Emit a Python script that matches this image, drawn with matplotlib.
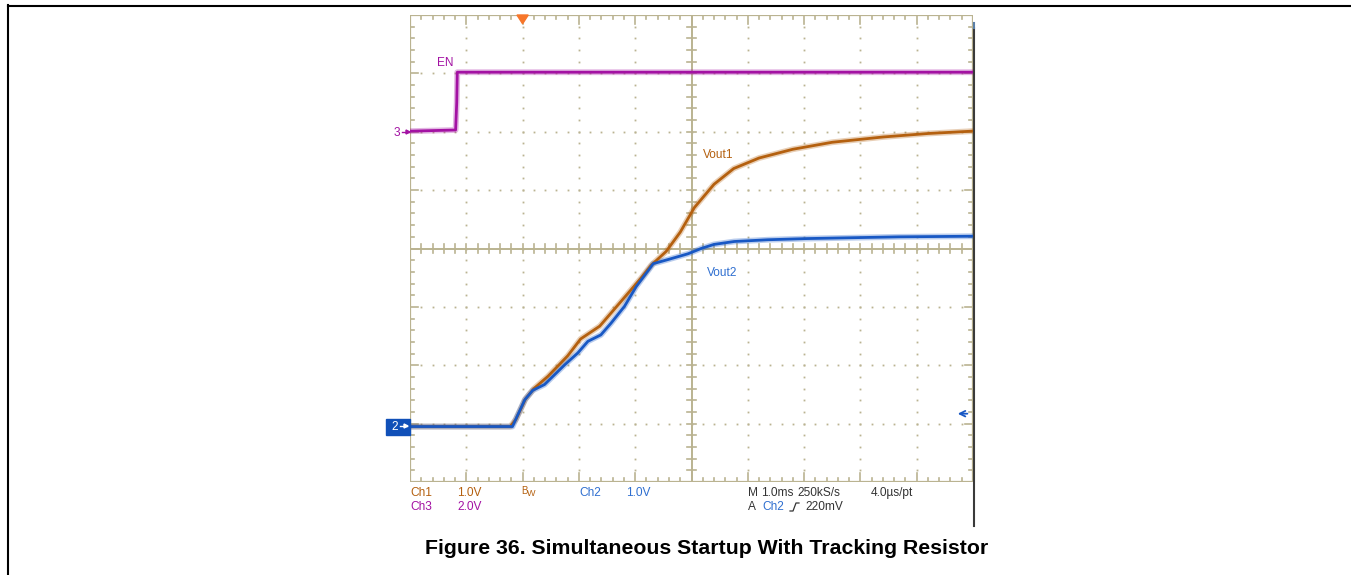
import matplotlib
matplotlib.use("Agg")
import matplotlib.pyplot as plt
from matplotlib.patches import Rectangle, Polygon
from matplotlib.lines import Line2D

plt.rcParams['font.family'] = ['Liberation Sans', 'DejaVu Sans']

# ---- waveform data (time in ms, trigger at t = 0) ----
en_t = [-2.0, -1.19, -1.17, -1.16, 8.0]
en_v = [0.02, 0.06, 1.0, 2.04, 2.04]

vout1_t = [-2.0, -0.22, -0.12, 0.05, 0.20, 0.45, 0.80, 1.03, 1.37, 1.79, 2.11, 2.28,
           2.55, 2.80, 3.05, 3.40, 3.75, 4.20, 4.80, 5.50, 6.40, 7.20, 7.98]
vout1_v = [0.0, 0.0, 0.12, 0.47, 0.65, 0.86, 1.21, 1.50, 1.72, 2.19, 2.55, 2.76,
           3.00, 3.33, 3.75, 4.15, 4.42, 4.60, 4.75, 4.87, 4.96, 5.02, 5.06]

vout2_t = [-2.0, -0.18, -0.09, 0.04, 0.18, 0.39, 0.57, 0.75, 0.98, 1.16, 1.39,
           1.57, 1.81, 2.02, 2.26, 2.32, 2.58, 2.94, 3.17, 3.40, 3.76, 4.36,
           5.05, 6.70, 7.98]
vout2_v = [0.0, 0.0, 0.19, 0.46, 0.62, 0.72, 0.89, 1.06, 1.26, 1.46, 1.57,
           1.77, 2.06, 2.40, 2.71, 2.79, 2.86, 2.96, 3.05, 3.12, 3.17, 3.20,
           3.22, 3.25, 3.26]

# channel settings: volts per division and ground level (divisions from bottom)
ch1_scale, ch1_ground = 1.0, 0.95
ch2_scale, ch2_ground = 1.0, 0.95
ch3_scale, ch3_ground = 2.0, 6.0
trigger_level = 0.22   # V on Ch2

# ---- figure geometry ----
W, H = 1351, 575
fig = plt.figure(figsize=(W / 100, H / 100), dpi=100)
fig.patch.set_facecolor('white')

def fx(x):
    return x / W

def fy(y):
    return 1 - y / H

gl, gr, gt, gb = 410, 973, 15, 482
ax = fig.add_axes([fx(gl), fy(gb), (gr - gl) / W, (gb - gt) / H])
ax.set_xlim(-2, 8)
ax.set_ylim(0, 8)
ax.set_axis_off()

grid_c = '#bab391'
purple = '#a312a3'
brown = '#b4600f'
blue = '#1858c4'
label_blue = '#2f6fd0'
dark = '#333333'

# graticule: dotted division lines
for xd in range(-1, 8):
    if xd == 3:
        continue
    ys = [i * 0.2 for i in range(1, 40)]
    ax.plot([xd] * len(ys), ys, ls='none', marker='s', ms=1.3, color=grid_c, mew=0)
for yd in range(1, 8):
    if yd == 4:
        continue
    xs = [-2 + i * 0.2 for i in range(1, 50)]
    ax.plot(xs, [yd] * len(xs), ls='none', marker='s', ms=1.3, color=grid_c, mew=0)

# center cross and border
ax.plot([3, 3], [0, 8], color=grid_c, lw=1.4)
ax.plot([-2, 8], [4, 4], color=grid_c, lw=1.4)
ax.add_patch(Rectangle((-2, 0), 10, 8, fill=False, ec=grid_c, lw=1.6))

tx = 0.075   # minor tick half-length (x units)
ty = 0.075   # minor tick half-length (y units)
for i in range(1, 50):
    x = -2 + i * 0.2
    major = (i % 5 == 0)
    L = ty * (2.0 if major else 1.0)
    ax.plot([x, x], [8, 8 - L], color=grid_c, lw=1.2)
    ax.plot([x, x], [0, L], color=grid_c, lw=1.2)
    ax.plot([x, x], [4 - ty, 4 + ty], color=grid_c, lw=1.2)
for i in range(1, 40):
    y = i * 0.2
    major = (i % 5 == 0)
    L = tx * (2.0 if major else 1.0)
    ax.plot([-2, -2 + L], [y, y], color=grid_c, lw=1.2)
    ax.plot([8, 8 - L], [y, y], color=grid_c, lw=1.2)
    ax.plot([3 - tx, 3 + tx], [y, y], color=grid_c, lw=1.2)

# ---- traces ----
def to_div(vals, scale, ground):
    return [v / scale + ground for v in vals]

traces = [
    (en_t, to_div(en_v, ch3_scale, ch3_ground), purple),
    (vout1_t, to_div(vout1_v, ch1_scale, ch1_ground), brown),
    (vout2_t, to_div(vout2_v, ch2_scale, ch2_ground), blue),
]
for t, d, c in traces:
    ax.plot(t, d, color=c, lw=4.2, alpha=0.3, solid_joinstyle='round', zorder=3)
    ax.plot(t, d, color=c, lw=2.0, solid_joinstyle='round', zorder=4)

# trace labels
fs = 8.6
ax.text(-1.52, 7.17, 'EN', color=purple, fontsize=fs, ha='left', va='center')
ax.text(3.2, 5.6, 'Vout1', color=brown, fontsize=fs, ha='left', va='center')
ax.text(3.27, 3.58, 'Vout2', color=label_blue, fontsize=fs, ha='left', va='center')

# trigger position marker (top) and trigger level marker (right)
ax.add_patch(Polygon([[-0.1, 8.0], [0.1, 8.0], [0.0, 7.85]], closed=True,
                     color='#f7762a', clip_on=False, zorder=6))
lvl = ch2_ground + trigger_level / ch2_scale
ax.annotate('', xy=(7.68, lvl), xytext=(7.95, lvl),
            arrowprops=dict(arrowstyle='->', color=blue, lw=1.3), zorder=6)

# channel ground markers on the left
fig.text(fx(397), fy(133), '3', color=purple, fontsize=fs, ha='center', va='center')
fig.add_artist(Line2D([fx(402), fx(409)], [fy(132), fy(132)], color=purple, lw=1.0))
fig.add_artist(Polygon([[fx(410), fy(132)], [fx(406), fy(130)], [fx(406), fy(134)]],
                       closed=True, color=purple))
fig.add_artist(Rectangle((fx(386), fy(435)), 24 / W, 16 / H, color='#1050b8'))
fig.text(fx(395), fy(427), '2', color='white', fontsize=fs, ha='center', va='center')
fig.add_artist(Line2D([fx(400), fx(407)], [fy(426), fy(426)], color='white', lw=1.0))
fig.add_artist(Polygon([[fx(408), fy(426)], [fx(404), fy(424)], [fx(404), fy(428)]],
                       closed=True, color='white'))

# scope readout lines
row1, row2 = 493, 507
ro = dict(fontsize=fs, ha='left', va='center')
fig.text(fx(410), fy(row1), 'Ch1', color=brown, **ro)
fig.text(fx(457), fy(row1), '1.0V', color=brown, **ro)
fig.text(fx(410), fy(row2), 'Ch3', color=purple, **ro)
fig.text(fx(457), fy(row2), '2.0V', color=purple, **ro)
fig.text(fx(521), fy(row1 - 2), 'B', color=brown, fontsize=7, ha='left', va='center')
fig.text(fx(527), fy(row1 + 1), 'W', color=brown, fontsize=6.5, ha='left', va='center')
fig.text(fx(579), fy(row1), 'Ch2', color=label_blue, **ro)
fig.text(fx(626), fy(row1), '1.0V', color=label_blue, **ro)
fig.text(fx(748), fy(row1), 'M', color=dark, **ro)
fig.text(fx(761), fy(row1), '1.0ms', color=dark, **ro)
fig.text(fx(797), fy(row1), '250kS/s', color=dark, **ro)
fig.text(fx(871), fy(row1), '4.0\u00b5s/pt', color=dark, **ro)
fig.text(fx(748), fy(row2), 'A', color=dark, **ro)
fig.text(fx(762), fy(row2), 'Ch2', color=label_blue, **ro)
fig.add_artist(Line2D([fx(790), fx(793), fx(796), fx(799)],
                      [fy(511), fy(511), fy(503), fy(503)], color=dark, lw=0.9))
fig.text(fx(805), fy(row2), '220mV', color=dark, **ro)

# right edge of the scope screen
fig.add_artist(Line2D([fx(974), fx(974)], [fy(28), fy(526)], color='#3a3a3a', lw=1.5))
fig.add_artist(Line2D([fx(974), fx(974)], [fy(23), fy(28)], color='#5a7fa8', lw=1.5))

# page frame
fig.add_artist(Line2D([fx(8), 1.0], [fy(5.5), fy(5.5)], color='black', lw=1.5))
fig.add_artist(Line2D([fx(8), fx(8)], [fy(5), 0.0], color='black', lw=1.5))

# caption
fig.text(fx(707), fy(548), 'Figure 36. Simultaneous Startup With Tracking Resistor',
         fontsize=15.3, fontweight='bold', ha='center', va='center', color='black')

fig.savefig('out.png', dpi=100, facecolor='white')
